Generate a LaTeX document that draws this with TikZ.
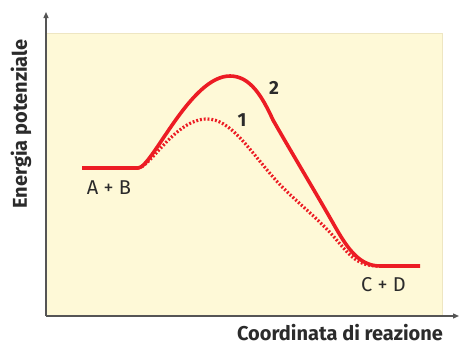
\documentclass[tikz,border=0pt]{standalone}
\usepackage{fontspec}
\setmainfont{Fira Sans}
\usetikzlibrary{arrows.meta}
\definecolor{bg}{HTML}{FEF9D7}
\definecolor{bgedge}{HTML}{EEE6C2}
\definecolor{curve}{HTML}{EC1C24}
\definecolor{axis}{HTML}{555555}
\definecolor{txt}{HTML}{2B2B2B}
\tikzset{
  axisline/.style={draw=axis, line width=1.3pt, -{Triangle[length=6pt,width=5pt]}},
  curvesolid/.style={draw=curve, line width=3.6pt, line join=round},
  curvedot/.style={draw=curve, line width=3.2pt, dash pattern=on 1.9pt off 1.9pt},
  axlabel/.style={font=\bfseries\fontsize{20}{22}\selectfont, text=txt, inner sep=0pt},
  numlabel/.style={font=\bfseries\fontsize{19}{21}\selectfont, text=txt, inner sep=0pt},
  statelabel/.style={font=\fontsize{20}{22}\selectfont, text=txt, inner sep=0pt}
}
\begin{document}
\begin{tikzpicture}[x=1pt,y=-1pt]
\useasboundingbox (0,0) rectangle (459,346);
% background
\fill[bg] (46,33) rectangle (443,316);
\draw[bgedge, line width=1pt] (46,33.5) -- (442.5,33.5) -- (442.5,316);
% axes
\coordinate (O) at (46,316);
\coordinate (Ytop) at (46,12);
\coordinate (Xend) at (459,316);
\draw[axisline] (O) -- (Ytop);
\draw[axisline] (O) -- (Xend);
% dotted curve 1
\draw[curvedot] (138,168) .. controls (150,168) and (175,119) .. (207,119)
  .. controls (230,119) and (248,148) .. (273,177)
  .. controls (290,197) and (315,215) .. (335,238)
  .. controls (350,256) and (358,266) .. (378,266);
% solid curve 2
\draw[curvesolid] (82,168) -- (138,168) .. controls (152,168) and (190,76) .. (230,76)
  .. controls (250,76) and (262,96) .. (273,120)
  .. controls (293,155) and (313,188) .. (333,223)
  .. controls (346,246) and (358,266) .. (380,266) -- (420,266);
% labels
\node[statelabel, anchor=base] (ab) at (109,194) {A + B};
\node[statelabel, anchor=base] (cd) at (383.5,291) {C + D};
\node[numlabel] (n1) at (242,120) {1};
\node[numlabel] (n2) at (274,88) {2};
\node[axlabel, anchor=base] (xl) at (340,340.5) {Coordinata di reazione};
\node[axlabel, rotate=90, anchor=base] (yl) at (27,124) {Energia potenziale};
\end{tikzpicture}
\end{document}
